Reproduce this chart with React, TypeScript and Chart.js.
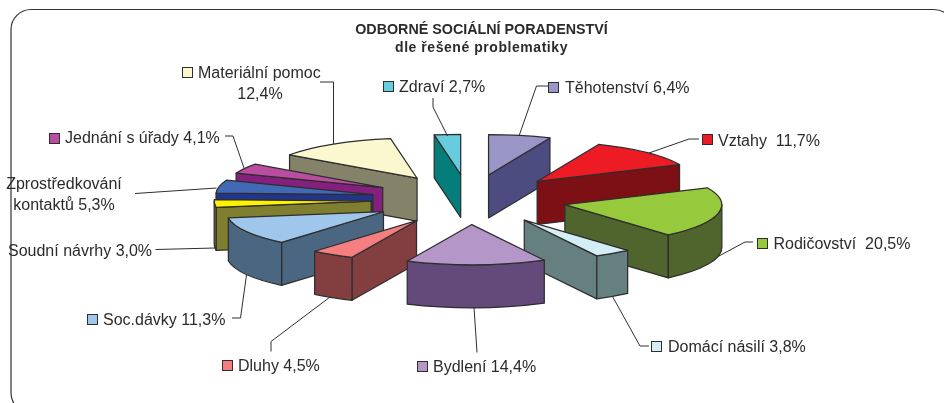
import React, { useEffect, useRef } from "react";
import { Chart, registerables } from "chart.js";

Chart.register(...registerables);

const categories = ["Těhotenství", "Vztahy ", "Rodičovství ", "Domácí násilí", "Bydlení", "Dluhy", "Soc.dávky", "Soudní návrhy", "Zprostředkování kontaktů", "Jednání s úřady", "Materiální pomoc", "Zdraví"];
const shares = [6.4, 11.7, 20.5, 3.8, 14.4, 4.5, 11.3, 3.0, 5.3, 4.1, 12.4, 2.7];
const topColors = ["#9a97c8", "#ed1c24", "#97c93c", "#d4eef5", "#b596c8", "#f57f80", "#9fc7eb", "#fff200", "#4269b5", "#ba4da0", "#fbf8cf", "#66ccde"];
const wallColors = ["#4c4c80", "#7d1014", "#4f652d", "#667f80", "#634a7b", "#833f40", "#4a6680", "#7f7f2f", "#22358a", "#85207f", "#84836a", "#057d7a"];
const titleLines = ["ODBORNÉ SOCIÁLNÍ PORADENSTVÍ", "dle řešené problematiky"];

const pct = (v: number) => v.toFixed(1).replace(".", ",") + "%";

// Label layout: key box (null = none), text lines, leader polyline
type Layout = { key: [number, number] | null; lines: [string, number, number, CanvasTextAlign][]; leader: number[][] };
const labelLayouts: Layout[] = [
  { key: [548, 82], lines: [[categories[0] + " " + pct(shares[0]), 565, 93, "left"]], leader: [[548, 86], [536.5, 86], [519, 136]] },
  { key: [702, 134], lines: [[categories[1] + " " + pct(shares[1]), 718, 146, "left"]], leader: [[699, 139], [689, 139], [649, 153]] },
  { key: [757, 238], lines: [[categories[2] + " " + pct(shares[2]), 773.5, 249, "left"]], leader: [[753, 242], [745, 242], [719, 256]] },
  { key: [651, 341], lines: [[categories[3] + " " + pct(shares[3]), 668, 352, "left"]], leader: [[649, 346], [640, 346], [612.5, 296.5]] },
  { key: [417, 361], lines: [[categories[4] + " " + pct(shares[4]), 433, 372, "left"]], leader: [[477, 352.5], [474, 307]] },
  { key: [222, 360], lines: [[categories[5] + " " + pct(shares[5]), 238, 371, "left"]], leader: [[271, 351.5], [271, 341.5], [330, 297]] },
  { key: [87, 314], lines: [[categories[6] + " " + pct(shares[6]), 103, 325, "left"]], leader: [[232, 318], [240.5, 318], [246.5, 275]] },
  { key: null, lines: [[categories[7] + " " + pct(shares[7]), 8, 256, "left"]], leader: [[155.5, 249.5], [215, 248]] },
  { key: null, lines: [["Zprostředkování", 64, 189, "center"], ["kontaktů " + pct(shares[8]), 64, 210, "center"]], leader: [[135, 193.5], [216.5, 188]] },
  { key: [49, 133], lines: [[categories[9] + " " + pct(shares[9]), 65, 143, "left"]], leader: [[225, 136], [233, 136], [244, 168]] },
  { key: [182, 67], lines: [[categories[10], 198, 78, "left"], [pct(shares[10]), 260, 99, "center"]], leader: [[320, 82], [333.5, 82], [333.5, 144]] },
  { key: [383, 81], lines: [[categories[11] + " " + pct(shares[11]), 399, 92, "left"]], leader: [[433, 98], [433, 107], [447.5, 136]] },
];

const TILT = 0.256;
const RADIUS = 157;
const EXPLODE = 98;
const DEPTH = 43;
const INK = "#2e2e2e";

const pie3d = {
  id: "pie3d",
  beforeDatasetDraw(chart: any, args: any) {
    const ctx: CanvasRenderingContext2D = chart.ctx;
    const arcs = args.meta.data;
    const geo = arcs.map((arc: any, i: number) => {
      const h = (arc.startAngle + arc.endAngle) / 2;
      return { arc, i, h, ax: arc.x + EXPLODE * Math.cos(h), ay: arc.y + EXPLODE * TILT * Math.sin(h) };
    });
    geo.sort((a: any, b: any) => a.ay - b.ay);
    ctx.save();
    ctx.lineWidth = 1.25;
    ctx.lineJoin = "round";
    ctx.strokeStyle = INK;
    for (const g of geo) {
      const { arc, i, h, ax, ay } = g;
      const s = arc.startAngle;
      const e = arc.endAngle;
      const R = arc.outerRadius;
      const px = (t: number) => ax + R * Math.cos(t);
      const py = (t: number) => ay + R * TILT * Math.sin(t);
      ctx.fillStyle = wallColors[i];
      const radial = (t: number) => {
        ctx.beginPath();
        ctx.moveTo(ax, ay);
        ctx.lineTo(px(t), py(t));
        ctx.lineTo(px(t), py(t) + DEPTH);
        ctx.lineTo(ax, ay + DEPTH);
        ctx.closePath();
        ctx.fill();
        ctx.stroke();
      };
      if (Math.cos(s) < 0) radial(s);
      if (Math.cos(e) > 0) radial(e);
      const rs = Math.max(s, 0);
      const re = Math.min(e, Math.PI);
      if (rs < re) {
        ctx.beginPath();
        ctx.ellipse(ax, ay, R, R * TILT, 0, rs, re);
        ctx.ellipse(ax, ay + DEPTH, R, R * TILT, 0, re, rs, true);
        ctx.closePath();
        ctx.fill();
        ctx.stroke();
      }
      // top face: the library's own arc, squashed and moved out
      ctx.save();
      ctx.translate(arc.x, arc.y);
      ctx.scale(1, TILT);
      ctx.translate(EXPLODE * Math.cos(h), EXPLODE * Math.sin(h));
      ctx.translate(-arc.x, -arc.y);
      arc.draw(ctx);
      ctx.restore();
      ctx.beginPath();
      ctx.moveTo(ax, ay);
      ctx.lineTo(px(s), py(s));
      ctx.ellipse(ax, ay, R, R * TILT, 0, s, e);
      ctx.closePath();
      ctx.stroke();
    }
    ctx.restore();
    return false;
  },
  afterDraw(chart: any) {
    const ctx: CanvasRenderingContext2D = chart.ctx;
    ctx.save();
    ctx.strokeStyle = "#333333";
    ctx.lineWidth = 1.2;
    ctx.beginPath();
    ctx.roundRect(11, 9.5, 943, 403.5, 20);
    ctx.stroke();

    ctx.fillStyle = "#2b2b2b";
    ctx.textAlign = "center";
    ctx.font = "bold 14.3px 'Liberation Sans'";
    ctx.fillText(titleLines[0], 481.5, 34);
    (ctx as any).letterSpacing = "0.55px";
    ctx.font = "bold 14px 'Liberation Sans'";
    ctx.fillText(titleLines[1], 481.5, 52);
    (ctx as any).letterSpacing = "0px";

    ctx.font = "16px 'Liberation Sans'";
    ctx.lineWidth = 1;
    labelLayouts.forEach((l, i) => {
      ctx.strokeStyle = INK;
      ctx.beginPath();
      l.leader.forEach((p, j) => (j ? ctx.lineTo(p[0], p[1]) : ctx.moveTo(p[0], p[1])));
      ctx.stroke();
      if (l.key) {
        ctx.fillStyle = topColors[i];
        ctx.fillRect(l.key[0] + 0.5, l.key[1] + 0.5, 10, 10);
        ctx.strokeRect(l.key[0] + 0.5, l.key[1] + 0.5, 10, 10);
      }
      ctx.fillStyle = "#2b2b2b";
      l.lines.forEach(([text, x, y, align]) => {
        ctx.textAlign = align;
        ctx.fillText(text, x, y);
      });
    });
    ctx.restore();
  },
};

export default function App() {
  const ref = useRef<HTMLCanvasElement>(null);
  useEffect(() => {
    const chart = new Chart(ref.current as HTMLCanvasElement, {
      type: "pie",
      data: {
        labels: categories,
        datasets: [{ data: shares, backgroundColor: topColors, borderWidth: 0, radius: RADIUS } as any],
      },
      options: {
        responsive: false,
        animation: false,
        layout: { padding: { right: 6, bottom: 4 } },
        plugins: { legend: { display: false }, tooltip: { enabled: false } },
      },
      plugins: [pie3d],
    } as any);
    return () => chart.destroy();
  }, []);
  return <canvas ref={ref} width={944} height={403} style={{ position: "fixed", left: 0, top: 0, display: "block" }} />;
}
